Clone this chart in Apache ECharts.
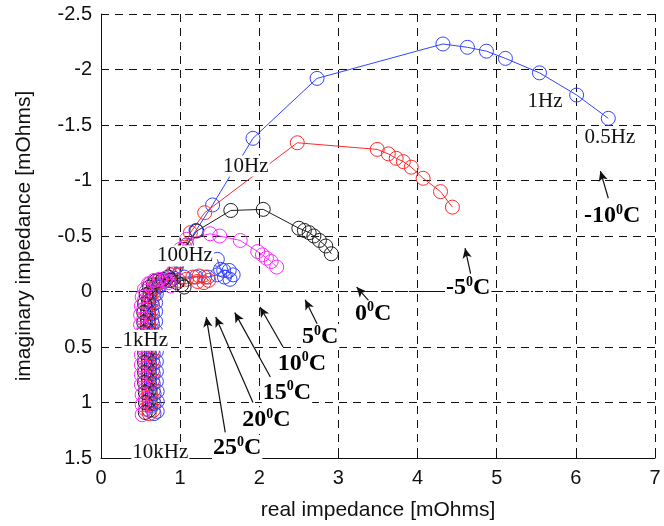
<!DOCTYPE html>
<html lang="en">
<head>
<meta charset="UTF-8">
<title>Impedance</title>
<script src="https://cdn.jsdelivr.net/npm/echarts@6/dist/echarts.min.js"></script>
<style>html,body{margin:0;background:#fff}</style>
</head>
<body>
<div id="main" style="width:664px;height:526px"></div>
<script>
// temperatures and their colours (matlab b, r, k, m cycle)
var temps = ['-10', '-5', '0', '5', '10', '15', '20', '25'];
var colors = ['#3344ff', '#ff2a2a', '#1e1e1e', '#ff2aff', '#3344ff', '#ff2a2a', '#1e1e1e', '#ff2aff'];

// [real, imaginary] in mOhms, 10kHz -> 0.5Hz
var tM10 = [[0.71,1.08],[0.71,0.99],[0.71,0.9],[0.7,0.81],[0.7,0.72],[0.7,0.63],[0.7,0.54],[0.69,0.45],[0.69,0.36],[0.69,0.27],[0.69,0.18],[0.69,0.1],[0.7,0.02],[0.74,-0.05],[0.8,-0.1],[0.92,-0.16],[1.0,-0.28],[1.08,-0.42],[1.2,-0.55],[1.41,-0.78],[1.92,-1.38],[2.73,-1.92],[4.32,-2.23],[4.63,-2.2],[4.87,-2.165],[5.11,-2.1],[5.54,-1.97],[6.01,-1.77],[6.41,-1.56]];
var tM5 = [[0.66,1.07],[0.66,0.98],[0.66,0.89],[0.65,0.8],[0.65,0.71],[0.65,0.62],[0.65,0.53],[0.64,0.44],[0.64,0.35],[0.64,0.26],[0.64,0.17],[0.64,0.09],[0.66,0.01],[0.7,-0.06],[0.77,-0.1],[0.88,-0.15],[0.98,-0.27],[1.06,-0.4],[1.13,-0.53],[1.31,-0.71],[2.48,-1.34],[3.49,-1.28],[3.63,-1.24],[3.73,-1.2],[3.82,-1.17],[3.92,-1.12],[4.07,-1.02],[4.29,-0.9],[4.44,-0.76]];
var t0 = [[0.61,1.07],[0.61,0.98],[0.61,0.89],[0.6,0.8],[0.6,0.71],[0.6,0.62],[0.6,0.53],[0.59,0.44],[0.59,0.35],[0.59,0.26],[0.59,0.17],[0.6,0.09],[0.62,0.01],[0.66,-0.06],[0.73,-0.1],[0.85,-0.13],[0.95,-0.22],[1.05,-0.38],[1.21,-0.545],[1.64,-0.73],[2.05,-0.74],[2.5,-0.57],[2.57,-0.55],[2.63,-0.53],[2.69,-0.5],[2.76,-0.46],[2.84,-0.41],[2.91,-0.34]];
var t5 = [[0.56,1.06],[0.56,0.97],[0.56,0.88],[0.55,0.79],[0.55,0.7],[0.55,0.61],[0.55,0.52],[0.54,0.43],[0.54,0.34],[0.54,0.25],[0.54,0.16],[0.55,0.08],[0.57,0.0],[0.62,-0.07],[0.7,-0.1],[0.82,-0.12],[0.93,-0.2],[1.0,-0.38],[1.08,-0.47],[1.38,-0.52],[1.5,-0.5],[1.76,-0.46],[1.98,-0.36],[2.04,-0.33],[2.09,-0.3],[2.15,-0.27],[2.22,-0.22]];
var t10 = [[0.67,1.1],[0.67,1.01],[0.67,0.92],[0.66,0.83],[0.66,0.74],[0.66,0.65],[0.66,0.56],[0.65,0.47],[0.65,0.38],[0.65,0.29],[0.65,0.2],[0.65,0.12],[0.67,0.04],[0.72,-0.04],[0.8,-0.09],[0.92,-0.12],[1.05,-0.13],[1.2,-0.13],[1.35,-0.13],[1.47,-0.15],[1.55,-0.19],[1.62,-0.19],[1.67,-0.15],[1.63,-0.11],[1.56,-0.13],[1.51,-0.2],[1.47,-0.29]];
var t15 = [[0.61,1.1],[0.61,1.01],[0.61,0.92],[0.6,0.83],[0.6,0.74],[0.6,0.65],[0.6,0.56],[0.59,0.47],[0.59,0.38],[0.59,0.29],[0.59,0.2],[0.6,0.12],[0.62,0.04],[0.67,-0.03],[0.75,-0.08],[0.87,-0.1],[0.98,-0.1],[1.08,-0.11],[1.16,-0.13],[1.24,-0.14],[1.31,-0.13],[1.36,-0.1],[1.3,-0.08],[1.22,-0.09]];
var t20 = [[0.56,1.09],[0.56,1.0],[0.56,0.91],[0.55,0.82],[0.55,0.73],[0.55,0.64],[0.55,0.55],[0.54,0.46],[0.54,0.37],[0.54,0.28],[0.54,0.19],[0.55,0.11],[0.57,0.03],[0.61,-0.04],[0.68,-0.09],[0.78,-0.11],[0.88,-0.1],[0.96,-0.08],[1.02,-0.06],[1.05,-0.04]];
var t25 = [[0.52,1.11],[0.52,1.02],[0.52,0.93],[0.51,0.84],[0.51,0.75],[0.51,0.66],[0.51,0.57],[0.5,0.48],[0.5,0.39],[0.5,0.3],[0.5,0.21],[0.51,0.13],[0.52,0.05],[0.55,-0.02],[0.6,-0.07],[0.67,-0.1],[0.74,-0.11],[0.8,-0.1],[0.85,-0.08],[0.88,-0.05]];
var allTemps = [tM10, tM5, t0, t5, t10, t15, t20, t25];

// dash-dot zero line
var zeroLine = [[0, 0], [6.35, 0]];

// frequency notes: text, x, y
var freqText = ['0.5Hz', '1Hz', '10Hz', '100Hz', '1kHz', '10kHz'];
var freqPos = [[6.43,-1.385],[5.61,-1.715],[1.83,-1.13],[1.06,-0.32],[0.56,0.44],[0.75,1.45]];

// temperature notes: label position, arrow tail, arrow head
var tempPos = [[6.46,-0.68],[4.64,-0.03],[3.44,0.2],[2.77,0.41],[2.54,0.65],[2.35,0.91],[2.09,1.16],[1.72,1.41]];
var arrowTail = [[6.41,-0.84],[4.67,-0.16],[3.38,0.08],[2.73,0.29],[2.3,0.5],[2.14,0.77],[1.92,1.0],[1.57,1.27]];
var arrowHead = [[6.31,-1.085],[4.6,-0.39],[3.23,-0.04],[2.58,0.075],[2.01,0.14],[1.69,0.19],[1.45,0.23],[1.33,0.23]];

var MyChart = echarts.init(document.getElementById('main'));

var series = [];
series.push({
    type: 'line', data: zeroLine, symbol: 'none', silent: true, z: 3,
    lineStyle: {color: '#111', width: 1.2, type: [7, 3, 2, 3]}
});
for (var i = 0; i < allTemps.length; i++) {
    series.push({
        name: temps[i] + '°C',
        type: 'line',
        data: allTemps[i],
        symbol: 'circle',
        symbolSize: 14,
        lineStyle: {width: 1, color: colors[i]},
        itemStyle: {borderWidth: 1, color: 'rgba(255,255,255,0)', borderColor: colors[i]}
    });
}

var noteText = {textBorderWidth: 0, textBorderColor: 'transparent', textShadowBlur: 0, opacity: 1};

var freqData = [];
for (var j = 0; j < freqText.length; j++) {
    freqData.push({name: freqText[j], value: freqPos[j]});
}
series.push({
    type: 'scatter', data: freqData, symbolSize: 0, z: 6, silent: true,
    label: Object.assign({
        show: true, position: 'inside', formatter: '{b}',
        fontFamily: 'Liberation Serif', fontSize: 21, color: '#111',
        backgroundColor: '#fff', padding: [0, 1]
    }, noteText)
});

var tempData = [], arrows = [];
for (var k = 0; k < temps.length; k++) {
    tempData.push({name: temps[k], value: tempPos[k]});
    arrows.push([{coord: arrowTail[k]}, {coord: arrowHead[k]}]);
}
series.push({
    type: 'scatter', data: tempData, symbolSize: 0, z: 6, silent: true,
    label: Object.assign({
        show: true, position: 'inside',
        formatter: function (p) { return p.name + '{s|0}C'; },
        fontFamily: 'Liberation Serif', fontWeight: 'bold', fontSize: 24, color: '#000',
        backgroundColor: '#fff', padding: [0, 1],
        rich: {s: {fontFamily: 'Liberation Serif', fontWeight: 'bold', fontSize: 14, color: '#000',
            textBorderWidth: 0, padding: [0, 0, 12, 0]}}
    }, noteText),
    markLine: {
        silent: true, symbol: ['none', 'arrow'], symbolSize: [7, 10],
        label: {show: false},
        lineStyle: {color: '#111', width: 1.2, type: 'solid'},
        data: arrows
    }
});

var axisFont = {fontFamily: 'Liberation Sans', fontSize: 20, color: '#111'};
var option = {
    animation: false,
    backgroundColor: '#fff',
    grid: {left: 101, right: 9, top: 14, bottom: 68},
    xAxis: {
        type: 'value', min: 0, max: 7, interval: 1,
        name: 'real impedance [mOhms]', nameLocation: 'middle', nameGap: 42,
        nameTextStyle: {fontFamily: 'Liberation Sans', fontSize: 21, color: '#111'},
        axisLine: {onZero: false, lineStyle: {color: '#111', width: 1}},
        axisTick: {inside: true, length: 4, lineStyle: {color: '#111'}},
        axisLabel: Object.assign({margin: 10}, axisFont),
        splitLine: {show: true, lineStyle: {color: '#111', width: 1, type: [8, 6]}}
    },
    yAxis: {
        type: 'value', min: -2.5, max: 1.5, interval: 0.5, inverse: true,
        name: 'imaginary impedance [mOhms]', nameLocation: 'middle', nameGap: 66,
        nameTextStyle: {fontFamily: 'Liberation Sans', fontSize: 21, color: '#111'},
        axisLine: {show: true, onZero: false, lineStyle: {color: '#111', width: 1}},
        axisTick: {show: true, inside: true, length: 4, lineStyle: {color: '#111'}},
        axisLabel: Object.assign({margin: 9}, axisFont),
        splitLine: {show: true, lineStyle: {color: '#111', width: 1, type: [8, 6]}}
    },
    series: series
};
MyChart.setOption(option);
</script>
</body>
</html>
